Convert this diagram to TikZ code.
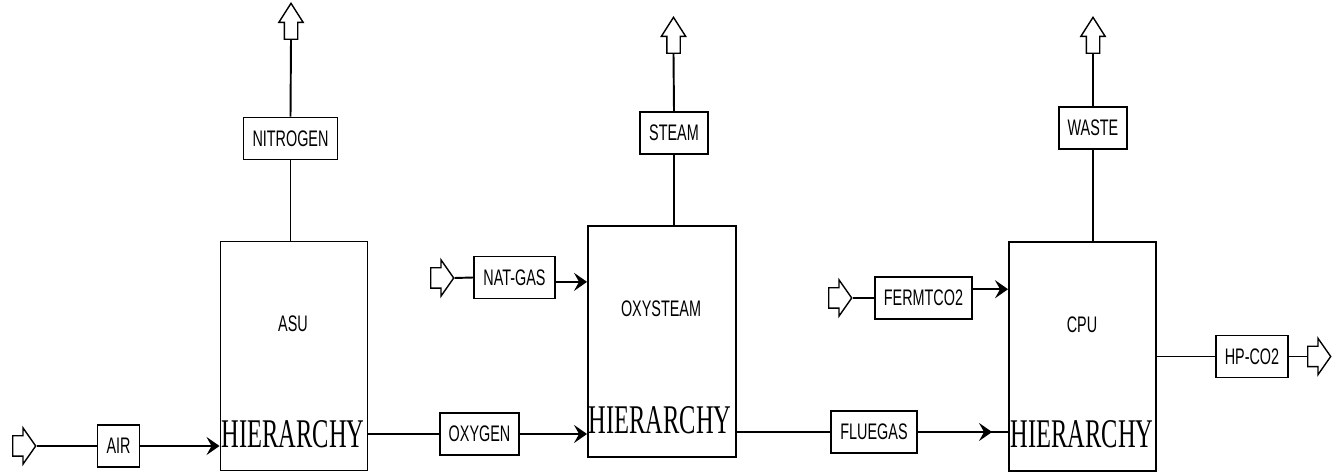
\documentclass[tikz,border=0pt]{standalone}
\usepackage{fontspec}
\setmainfont{Liberation Sans}
\newfontfamily\lblfont[FakeStretch=0.64]{Liberation Sans}
\newfontfamily\hierfont[FakeStretch=0.6]{Liberation Serif}
\usetikzlibrary{shapes.arrows, arrows.meta, calc}

\begin{document}
\begin{tikzpicture}[x=0.02cm, y=-0.02cm,
      unit/.style={draw, line width=1.1pt, minimum width=2.94cm, minimum height=4.58cm, inner sep=0},
      stream/.style={draw, line width=1.1pt, minimum height=0.84cm, inner xsep=0.18cm,
            font=\lblfont\fontsize{12.8}{14}\selectfont},
      unitname/.style={inner sep=0, font=\lblfont\fontsize{12.8}{14}\selectfont},
      hier/.style={inner sep=0, font=\hierfont\fontsize{23.2}{26}\selectfont},
      feed/.style={draw, single arrow, line width=0.8pt, inner xsep=0, inner ysep=0.19cm,
            single arrow head extend=0.16cm, single arrow tip angle=110, minimum height=0.46cm, anchor=tail},
      vent/.style={draw, single arrow, shape border rotate=90, line width=0.8pt, inner sep=0.12cm,
            single arrow head extend=0.11cm, single arrow tip angle=65, minimum height=0.72cm, anchor=tail},
      line/.style={line width=1.1pt},
      flow/.style={line width=1.1pt, -{Stealth[length=0.26cm, width=0.36cm, inset=0.1cm]}}]
      \useasboundingbox (0,0) rectangle (1339,472);

      \node[unit] (asu) at (294,356) {};
      \node[unit, minimum width=2.96cm, minimum height=4.62cm] (oxysteam) at (662,341.5) {};
      \node[unit] (cpu) at (1082.5,356.5) {};
      \node[unitname] (asuname) at (293,324) {ASU};
      \node[unitname] (oxysteamname) at (661,309) {OXYSTEAM};
      \node[unitname] (cpuname) at (1082,325) {CPU};
      \node[hier] (asuhier) at (293,434) {HIERARCHY};
      \node[hier] (oxysteamhier) at (660,420) {HIERARCHY};
      \node[hier] (cpuhier) at (1082,434) {HIERARCHY};

      \node[stream] (air) at (118.5,446) {AIR};
      \node[stream] (nitrogen) at (290.5,138.5) {NITROGEN};
      \node[stream] (oxygen) at (479.5,434) {OXYGEN};
      \node[stream] (natgas) at (514.5,277.5) {NAT-GAS};
      \node[stream] (steam) at (674,133) {STEAM};
      \node[stream] (fermtco2) at (923.5,298) {FERMTCO2};
      \node[stream] (fluegas) at (874,432) {FLUEGAS};
      \node[stream] (waste) at (1093,128) {WASTE};
      \node[stream] (hpco2) at (1252,356.5) {HP-CO2};

      \node[feed] (airin) at (12,446) {};
      \node[feed] (natgasin) at (430,278) {};
      \node[feed] (fermtco2in) at (828,298) {};
      \node[feed] (hpco2out) at (1307,356.5) {};
      \node[vent] (nitrogenout) at (291,40) {};
      \node[vent] (steamout) at (673.5,54) {};
      \node[vent] (wasteout) at (1093,54) {};

      \draw[line] (airin.tip) -- (air.west);
      \draw[flow] (air.east) -- (air.east -| asu.west);
      \draw[line] (oxygen.west -| asu.east) -- (oxygen.west);
      \draw[flow] (oxygen.east) -- (oxygen.east -| oxysteam.west);
      \draw[line] (natgasin.tip) -- (natgas.west);
      \draw[flow] ([yshift=-2.5pt]natgas.east) -- ([yshift=-2.5pt]natgas.east -| oxysteam.west);
      \draw[line] (fluegas.west -| oxysteam.east) -- (fluegas.west);
      \draw[line] (fluegas.east) -- (fluegas.east -| cpu.west);
      \draw[flow] (fluegas.east) -- ($(fluegas.east -| cpu.west)+(-16,0)$);
      \draw[line] (fermtco2in.tip) -- (fermtco2.west);
      \draw[flow] ([yshift=5pt]fermtco2.east) -- ([yshift=5pt]fermtco2.east -| cpu.west);
      \draw[line] (hpco2.west -| cpu.east) -- (hpco2.west);
      \draw[line] (hpco2.east) -- (hpco2out.tail);
      \draw[line] (nitrogen.south |- asu.north) -- (nitrogen.south);
      \draw[line] (nitrogen.north) -- (nitrogenout.tail);
      \draw[line] (steam.south |- oxysteam.north) -- (steam.south);
      \draw[line] (steam.north) -- (steamout.tail);
      \draw[line] (waste.south |- cpu.north) -- (waste.south);
      \draw[line] (waste.north) -- (wasteout.tail);
    \end{tikzpicture}
\end{document}
